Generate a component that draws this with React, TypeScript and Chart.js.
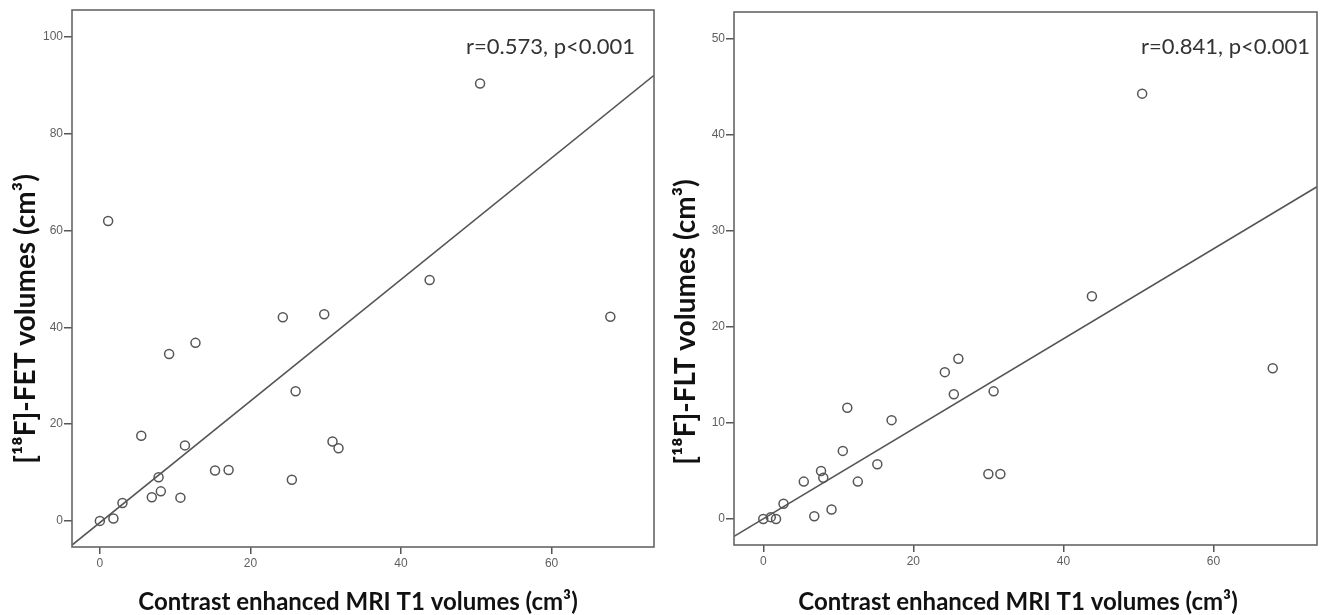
import React, { useEffect, useRef } from "react";
import { Chart, registerables } from "chart.js";

Chart.register(...registerables);

// ---- Left panel: [18F]-FET vs MRI T1 ----
const fetMriX = [0, 1.8, 3.0, 5.5, 6.9, 7.8, 8.1, 9.2, 10.7, 11.3, 12.7, 15.3, 17.1, 24.3, 25.5, 26.0, 29.8, 30.9, 31.7, 43.8, 50.5, 67.8, 1.1];
const fetVolY = [0, 0.5, 3.7, 17.6, 4.9, 9.0, 6.1, 34.5, 4.8, 15.6, 36.8, 10.4, 10.5, 42.1, 8.5, 26.8, 42.7, 16.4, 15.0, 49.8, 90.4, 42.2, 62.0];
const fetFitX = [-3.7, 73.6];
const fetFitY = [-5.0, 92.1];
const fetXTicks = [0, 20, 40, 60];
const fetYTicks = [0, 20, 40, 60, 80, 100];
const fetStat = "r=0.573, p<0.001";
const fetYTitle = "[¹⁸F]-FET volumes (cm³)";

// ---- Right panel: [18F]-FLT vs MRI T1 ----
const fltMriX = [0, 1.0, 1.7, 2.7, 5.4, 6.8, 7.7, 8.0, 9.1, 10.6, 11.2, 12.6, 15.2, 17.1, 24.2, 25.4, 26.0, 30.0, 30.7, 31.6, 43.8, 50.5, 67.9];
const fltVolY = [0, 0.2, 0, 1.6, 3.9, 0.3, 5.0, 4.3, 1.0, 7.1, 11.6, 3.9, 5.7, 10.3, 15.3, 13.0, 16.7, 4.7, 13.3, 4.7, 23.2, 44.3, 15.7];
const fltFitX = [-3.9, 73.8];
const fltFitY = [-1.8, 34.6];
const fltXTicks = [0, 20, 40, 60];
const fltYTicks = [0, 10, 20, 30, 40, 50];
const fltStat = "r=0.841, p<0.001";
const fltYTitle = "[¹⁸F]-FLT volumes (cm³)";

const xTitle = "Contrast enhanced MRI T1 volumes (cm³)";

const INK = "#555555";

const framePlugin = {
  id: "frameAndTitles",
  afterDraw(chart: any) {
    const o = chart.options.plugins.frameAndTitles;
    const { ctx, chartArea } = chart;
    ctx.save();
    ctx.strokeStyle = "#666666";
    ctx.lineWidth = 1.6;
    ctx.strokeRect(chartArea.left, chartArea.top, chartArea.right - chartArea.left, chartArea.bottom - chartArea.top);
    // stat text
    ctx.fillStyle = "#333333";
    ctx.font = "22px Lato";
    ctx.textAlign = "right";
    ctx.textBaseline = "alphabetic";
    ctx.fillText(o.stat, o.statX, o.statY);
    // x title
    ctx.fillStyle = "#111111";
    ctx.font = "bold 24px Lato";
    ctx.textAlign = "center";
    ctx.fillText(o.xTitle, o.xTitleX, o.xTitleY);
    // y title
    ctx.font = "bold 28px Lato";
    ctx.translate(o.yTitleX, o.yTitleY);
    ctx.rotate(-Math.PI / 2);
    ctx.textBaseline = "middle";
    ctx.fillText(o.yTitle, 0, 0);
    ctx.restore();
  },
};

function makeConfig(p: any) {
  const pts = p.xs.map((x: number, i: number) => ({ x, y: p.ys[i] }));
  const fit = p.fx.map((x: number, i: number) => ({ x, y: p.fy[i] }));
  return {
    type: "scatter",
    data: {
      datasets: [
        {
          type: "line",
          data: fit,
          borderColor: INK,
          borderWidth: 1.6,
          pointRadius: 0,
          fill: false,
        },
        {
          type: "scatter",
          data: pts,
          pointStyle: "circle",
          pointRadius: 4.5,
          borderColor: INK,
          borderWidth: 1.5,
          backgroundColor: "rgba(255,255,255,0)",
        },
      ],
    },
    options: {
      responsive: false,
      animation: false,
      events: [],
      layout: { padding: { left: 0, top: p.padTop, right: p.padRight, bottom: 0 } },
      plugins: {
        legend: { display: false },
        tooltip: { enabled: false },
        frameAndTitles: {
          stat: p.stat,
          statX: p.statX,
          statY: p.statY,
          xTitle: xTitle,
          xTitleX: p.xTitleX,
          xTitleY: p.xTitleY,
          yTitle: p.yTitle,
          yTitleX: p.yTitleX,
          yTitleY: p.yTitleY,
        },
      },
      scales: {
        x: {
          type: "linear",
          min: p.xMin,
          max: p.xMax,
          afterBuildTicks: (s: any) => {
            s.ticks = p.xTicks.map((v: number) => ({ value: v }));
          },
          afterFit: (s: any) => {
            s.height = p.xAxisH;
          },
          border: { display: false },
          grid: { drawOnChartArea: false, drawTicks: true, tickLength: 7, color: INK, lineWidth: 1.5 },
          ticks: { color: "#5f5f5f", font: { family: "Liberation Sans", size: 12 }, padding: 2 },
        },
        y: {
          type: "linear",
          min: p.yMin,
          max: p.yMax,
          afterBuildTicks: (s: any) => {
            s.ticks = p.yTicks.map((v: number) => ({ value: v }));
          },
          afterFit: (s: any) => {
            s.width = p.yAxisW;
          },
          border: { display: false },
          grid: { drawOnChartArea: false, drawTicks: true, tickLength: 8, color: INK, lineWidth: 1.5 },
          ticks: { color: "#5f5f5f", font: { family: "Liberation Sans", size: 12 }, padding: 1 },
        },
      },
    },
    plugins: [framePlugin],
  };
}

function Panel(props: { p: any; left: number; width: number }) {
  const ref = useRef<HTMLCanvasElement>(null);
  useEffect(() => {
    const chart = new Chart(ref.current as HTMLCanvasElement, makeConfig(props.p) as any);
    return () => chart.destroy();
  }, []);
  return (
    <canvas
      ref={ref}
      width={props.width}
      height={615}
      style={{ position: "absolute", left: props.left, top: 0, width: props.width, height: 615 }}
    />
  );
}

const leftPanel = {
  xs: fetMriX, ys: fetVolY, fx: fetFitX, fy: fetFitY,
  xTicks: fetXTicks, yTicks: fetYTicks,
  xMin: -3.7, xMax: 73.6, yMin: -5.4, yMax: 105.6,
  padTop: 10, padRight: 5, yAxisW: 72, xAxisH: 68,
  stat: fetStat, statX: 635, statY: 54,
  xTitleX: 358, xTitleY: 610,
  yTitle: fetYTitle, yTitleX: 26, yTitleY: 319,
};

const rightPanel = {
  xs: fltMriX, ys: fltVolY, fx: fltFitX, fy: fltFitY,
  xTicks: fltXTicks, yTicks: fltYTicks,
  xMin: -3.9, xMax: 73.8, yMin: -2.7, yMax: 52.8,
  padTop: 12, padRight: 3, yAxisW: 74, xAxisH: 70,
  stat: fltStat, statX: 650, statY: 54,
  xTitleX: 358, xTitleY: 610,
  yTitle: fltYTitle, yTitleX: 26, yTitleY: 322,
};

export default function App() {
  return (
    <div style={{ position: "absolute", left: 0, top: 0, width: 1323, height: 615, background: "#ffffff" }}>
      <Panel p={leftPanel} left={0} width={660} />
      <Panel p={rightPanel} left={660} width={663} />
    </div>
  );
}
